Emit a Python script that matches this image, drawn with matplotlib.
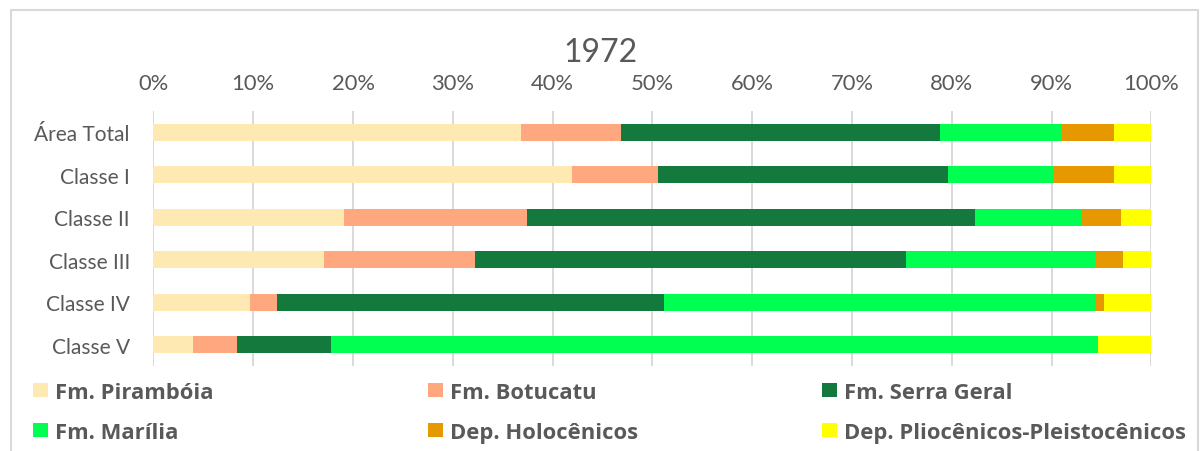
import matplotlib
matplotlib.use("Agg")
import matplotlib.pyplot as plt
from matplotlib.patches import Rectangle
import numpy as np

plt.rcParams['font.family'] = ['Lato', 'DejaVu Sans']

categories = ["Área Total", "Classe I", "Classe II", "Classe III", "Classe IV", "Classe V"]
series_names = ["Fm. Pirambóia", "Fm. Botucatu", "Fm. Serra Geral",
                "Fm. Marília", "Dep. Holocênicos", "Dep. Pliocênicos-Pleistocênicos"]
piramboia = [36.8, 41.9, 19.1, 17.1, 9.7, 4.0]
botucatu = [10.1, 8.7, 18.3, 15.1, 2.7, 4.4]
serra_geral = [31.9, 29.0, 44.9, 43.2, 38.8, 9.4]
marilia = [12.1, 10.6, 10.6, 18.9, 43.2, 76.8]
holocenicos = [5.4, 6.1, 4.1, 2.9, 0.9, 0.0]
plio_pleisto = [3.7, 3.7, 3.0, 2.8, 4.7, 5.4]
colors = ["#FFE9B3", "#FFA77F", "#13793D", "#00FF50", "#E69800", "#FFFF00"]
x_ticks = [0, 10, 20, 30, 40, 50, 60, 70, 80, 90, 100]

W, H = 1200, 452
fig = plt.figure(figsize=(W / 100, H / 100), dpi=100)
ax = fig.add_axes([153.4 / W, 1 - 367 / H, 998 / W, 255 / H])

series = [piramboia, botucatu, serra_geral, marilia, holocenicos, plio_pleisto]
y = np.arange(len(categories))
left = np.zeros(len(categories))
containers = []
for name, vals, col in zip(series_names, series, colors):
    vals = np.array(vals, dtype=float)
    c = ax.barh(y, vals, left=left, height=0.39, color=col, label=name,
                edgecolor='none', zorder=3)
    containers.append(c)
    left += vals

ax.set_xlim(0, 100)
ax.set_ylim(len(categories) - 0.5, -0.5)
ax.set_yticks(y)
ax.set_yticklabels(categories)
ax.set_xticks(x_ticks)
ax.set_xticklabels([f"{v}%" for v in x_ticks])
ax.xaxis.tick_top()
ax.tick_params(axis='x', length=0, pad=13, labelsize=15.8, labelcolor='#595959')
ax.tick_params(axis='y', length=0, pad=17, labelsize=15, labelcolor='#595959')
ax.grid(axis='x', color='#D9D9D9', lw=1.4, zorder=0)
ax.set_axisbelow(True)
for s in ax.spines.values():
    s.set_visible(False)

fig.text(0.5, 1 - 62 / H, "1972", ha='center', va='baseline',
         fontsize=23, color='#595959')

# legend: three columns of two entries
col_x = [33.4, 428.3, 822.4]
for i, x0 in enumerate(col_x):
    hs = [containers[i], containers[i + 3]]
    ls = [series_names[i], series_names[i + 3]]
    leg = fig.legend(hs, ls, loc='upper left',
                     bbox_to_anchor=(x0 / W, 1 - 383 / H),
                     bbox_transform=fig.transFigure, frameon=False,
                     borderpad=0, borderaxespad=0, handlelength=0.65,
                     handleheight=0.6, handletextpad=0.34, labelspacing=0.85,
                     prop={'family': 'Open Sans', 'weight': 'bold', 'size': 15.8})
    for t in leg.get_texts():
        t.set_color('#595959')

fig.add_artist(Rectangle((10.5 / W, -0.05), (1198 - 10.5) / W, 1.05 - 10.7 / H,
                         transform=fig.transFigure, fill=False,
                         edgecolor='#D9D9D9', lw=1.5))

fig.savefig("out.png", dpi=100)
